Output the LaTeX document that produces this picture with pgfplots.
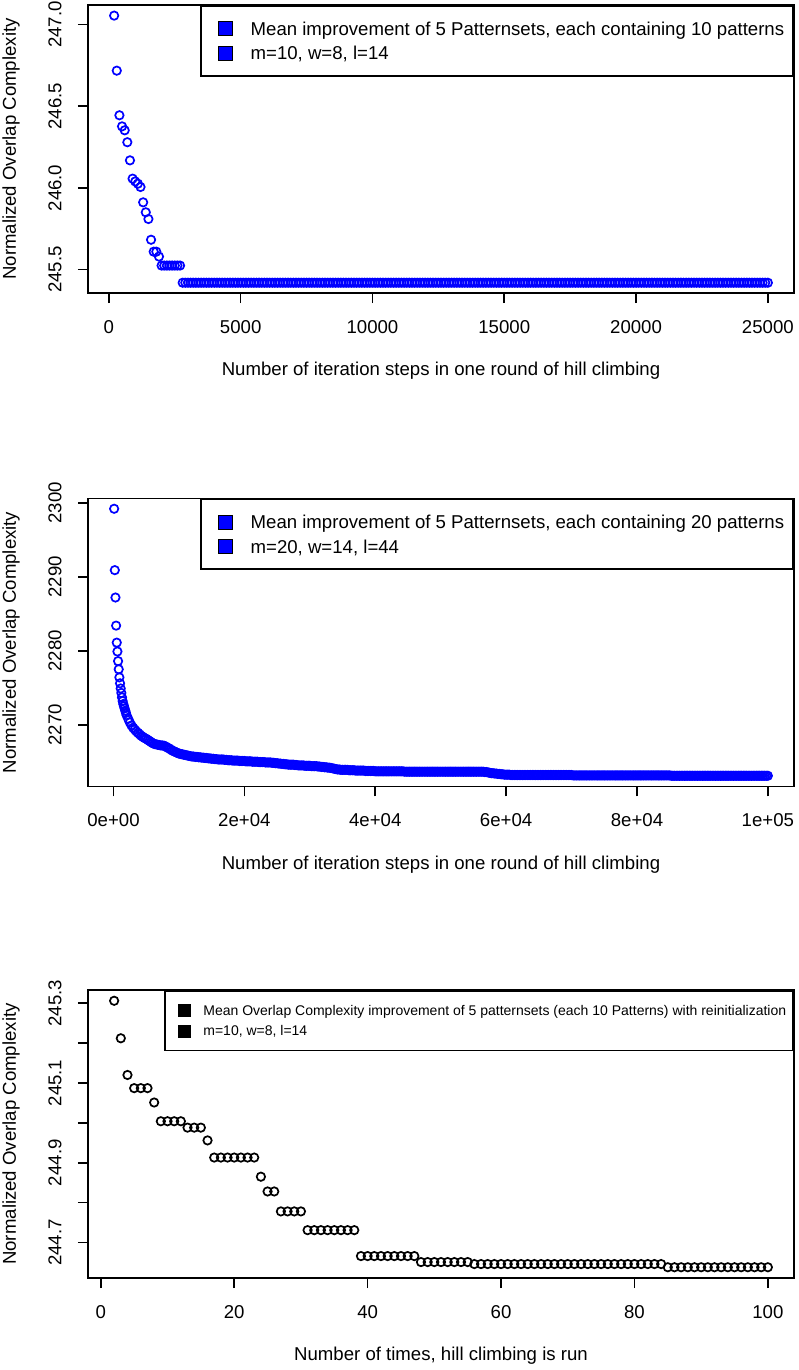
\documentclass[border=0pt]{standalone}
\usepackage{fontspec}
\setmainfont{Liberation Sans}
\usepackage{pgfplots}
\pgfplotsset{compat=1.18}

\pgfplotsset{
  rplot/.style={
    scale only axis, width=353pt, height=144pt,
    anchor=north west,
    axis line style={line width=0.8pt},
    tick style={line width=0.8pt, black},
    tick align=outside, major tick length=5pt,
    xtick pos=bottom, ytick pos=left,
    scaled ticks=false,
    tick label style={font=\fontsize{9.3}{11}\selectfont},
    label style={font=\fontsize{9.3}{11}\selectfont},
    /pgf/number format/assume math mode=true,
    xticklabel style={anchor=center},
    yticklabel style={rotate=90, anchor=center},
    xticklabel shift=12pt,
    yticklabel shift=11.5pt,
    xlabel style={at={(axis description cs:0.5,-0.2708)}, anchor=center},
    ylabel style={at={(axis description cs:-0.1091,0.5)}, anchor=center},
    ylabel={Normalized Overlap Complexity},
    legend cell align=left,
  },
  bigleg/.style={
    legend style={at={(1,1)}, anchor=north east, draw=black, line width=0.8pt,
      fill=white, inner xsep=4.5pt, inner ysep=7.7pt, row sep=4.84pt,
      font=\fontsize{9.3}{11}\selectfont,
      nodes={inner sep=0pt, text height=6.66pt, text depth=0pt}},
  },
  rmark/.style={only marks, mark=o, mark size=2.1pt, mark options={line width=0.85pt}},
  sqblue/.style={legend image code/.code={
    \path (0pt,0pt);
    \draw[fill=blue, draw=black, line width=0.4pt] (4pt,-3.5pt) rectangle (11pt,3.5pt);
    \path (19.5pt,0pt);}},
  sqblack/.style={legend image code/.code={
    \path (0pt,0pt);
    \draw[fill=black, draw=black, line width=0.4pt] (3pt,-3pt) rectangle (9pt,3pt);
    \path (15pt,0pt);}},
}

\begin{document}
\begin{tikzpicture}
\useasboundingbox (0pt,0pt) rectangle (399pt,-685pt);

% ---------- panel 1
\begin{axis}[rplot, bigleg,
  at={(44pt,-2.5pt)},
  xmin=-792, xmax=25992, ymin=245.357, ymax=247.12,
  xtick={0,5000,10000,15000,20000,25000},
  xticklabels={0,5000,10000,15000,20000,25000},
  ytick={245.5,246,246.5,247},
  yticklabels={245.5,246.0,246.5,247.0},
  xlabel={Number of iteration steps in one round of hill climbing},
]
\addplot[rmark, blue, sqblue] coordinates {
(200,247.055) (300,246.718) (400,246.445) (500,246.377) (600,246.353) (700,246.280)
(800,246.169) (900,246.057) (1000,246.040) (1100,246.026) (1200,246.006) (1300,245.912)
(1400,245.851) (1500,245.810) (1600,245.683) (1700,245.610) (1800,245.610) (1900,245.580)
(2000,245.525) (2100,245.525) (2200,245.525) (2300,245.525) (2400,245.525) (2500,245.525)
(2600,245.525) (2700,245.525)
(2800,245.42) (2900,245.42)
(3000,245.42) (3100,245.42) (3200,245.42) (3300,245.42) (3400,245.42) (3500,245.42) (3600,245.42) (3700,245.42) (3800,245.42) (3900,245.42)
(4000,245.42) (4100,245.42) (4200,245.42) (4300,245.42) (4400,245.42) (4500,245.42) (4600,245.42) (4700,245.42) (4800,245.42) (4900,245.42)
(5000,245.42) (5100,245.42) (5200,245.42) (5300,245.42) (5400,245.42) (5500,245.42) (5600,245.42) (5700,245.42) (5800,245.42) (5900,245.42)
(6000,245.42) (6100,245.42) (6200,245.42) (6300,245.42) (6400,245.42) (6500,245.42) (6600,245.42) (6700,245.42) (6800,245.42) (6900,245.42)
(7000,245.42) (7100,245.42) (7200,245.42) (7300,245.42) (7400,245.42) (7500,245.42) (7600,245.42) (7700,245.42) (7800,245.42) (7900,245.42)
(8000,245.42) (8100,245.42) (8200,245.42) (8300,245.42) (8400,245.42) (8500,245.42) (8600,245.42) (8700,245.42) (8800,245.42) (8900,245.42)
(9000,245.42) (9100,245.42) (9200,245.42) (9300,245.42) (9400,245.42) (9500,245.42) (9600,245.42) (9700,245.42) (9800,245.42) (9900,245.42)
(10000,245.42) (10100,245.42) (10200,245.42) (10300,245.42) (10400,245.42) (10500,245.42) (10600,245.42) (10700,245.42) (10800,245.42) (10900,245.42)
(11000,245.42) (11100,245.42) (11200,245.42) (11300,245.42) (11400,245.42) (11500,245.42) (11600,245.42) (11700,245.42) (11800,245.42) (11900,245.42)
(12000,245.42) (12100,245.42) (12200,245.42) (12300,245.42) (12400,245.42) (12500,245.42) (12600,245.42) (12700,245.42) (12800,245.42) (12900,245.42)
(13000,245.42) (13100,245.42) (13200,245.42) (13300,245.42) (13400,245.42) (13500,245.42) (13600,245.42) (13700,245.42) (13800,245.42) (13900,245.42)
(14000,245.42) (14100,245.42) (14200,245.42) (14300,245.42) (14400,245.42) (14500,245.42) (14600,245.42) (14700,245.42) (14800,245.42) (14900,245.42)
(15000,245.42) (15100,245.42) (15200,245.42) (15300,245.42) (15400,245.42) (15500,245.42) (15600,245.42) (15700,245.42) (15800,245.42) (15900,245.42)
(16000,245.42) (16100,245.42) (16200,245.42) (16300,245.42) (16400,245.42) (16500,245.42) (16600,245.42) (16700,245.42) (16800,245.42) (16900,245.42)
(17000,245.42) (17100,245.42) (17200,245.42) (17300,245.42) (17400,245.42) (17500,245.42) (17600,245.42) (17700,245.42) (17800,245.42) (17900,245.42)
(18000,245.42) (18100,245.42) (18200,245.42) (18300,245.42) (18400,245.42) (18500,245.42) (18600,245.42) (18700,245.42) (18800,245.42) (18900,245.42)
(19000,245.42) (19100,245.42) (19200,245.42) (19300,245.42) (19400,245.42) (19500,245.42) (19600,245.42) (19700,245.42) (19800,245.42) (19900,245.42)
(20000,245.42) (20100,245.42) (20200,245.42) (20300,245.42) (20400,245.42) (20500,245.42) (20600,245.42) (20700,245.42) (20800,245.42) (20900,245.42)
(21000,245.42) (21100,245.42) (21200,245.42) (21300,245.42) (21400,245.42) (21500,245.42) (21600,245.42) (21700,245.42) (21800,245.42) (21900,245.42)
(22000,245.42) (22100,245.42) (22200,245.42) (22300,245.42) (22400,245.42) (22500,245.42) (22600,245.42) (22700,245.42) (22800,245.42) (22900,245.42)
(23000,245.42) (23100,245.42) (23200,245.42) (23300,245.42) (23400,245.42) (23500,245.42) (23600,245.42) (23700,245.42) (23800,245.42) (23900,245.42)
(24000,245.42) (24100,245.42) (24200,245.42) (24300,245.42) (24400,245.42) (24500,245.42) (24600,245.42) (24700,245.42) (24800,245.42) (24900,245.42)
(25000,245.42)
};
\addlegendentry{Mean improvement of 5 Patternsets, each containing 10 patterns}
\addlegendimage{sqblue}
\addlegendentry{m=10, w=8, l=14}
\end{axis}

% ---------- panel 2
\begin{axis}[rplot, bigleg,
  at={(44pt,-249.2pt)},
  xmin=-3896, xmax=103996, ymin=2261.66, ymax=2300.6,
  xtick={0,20000,40000,60000,80000,100000},
  xticklabels={0e+00,2e+04,4e+04,6e+04,8e+04,1e+05},
  ytick={2270,2280,2290,2300},
  yticklabels={2270,2280,2290,2300},
  xlabel={Number of iteration steps in one round of hill climbing},
]
\addplot[rmark, blue, sqblue] coordinates {
(100,2299.2) (200,2290.9) (300,2287.2) (400,2283.4) (500,2281.1) (600,2279.9) (700,2278.6)
(800,2277.5) (900,2276.4) (1000,2275.6) (1100,2274.9) (1200,2274.3) (1300,2273.7) (1400,2273.2)
(1500,2272.8) (1600,2272.5) (1700,2272.2) (1800,2271.9) (1900,2271.6)
(2000,2271.3) (2250,2270.8) (2500,2270.3) (2750,2269.9) (3000,2269.6) (3250,2269.35)
(3500,2269.1) (3750,2268.9) (4000,2268.7) (4250,2268.5) (4500,2268.35) (4750,2268.2)
(5000,2268.1) (5250,2267.95) (5500,2267.8) (5750,2267.65) (6000,2267.5) (6250,2267.4)
(6500,2267.35) (6750,2267.3) (7000,2267.25) (7250,2267.2) (7500,2267.2) (7750,2267.15)
(8000,2267.05) (8250,2266.9) (8500,2266.8) (8750,2266.65) (9000,2266.5) (9250,2266.4)
(9500,2266.3) (9750,2266.2) (10000,2266.1) (10250,2266.05) (10500,2266.0) (10750,2265.95)
(11000,2265.9) (11250,2265.85) (11500,2265.8) (11750,2265.75) (12000,2265.7) (12250,2265.7)
(12500,2265.65) (12750,2265.65) (13000,2265.6) (13250,2265.6) (13500,2265.55) (13750,2265.55)
(14000,2265.5) (14250,2265.5) (14500,2265.45) (14750,2265.45) (15000,2265.4) (15250,2265.4)
(15500,2265.35) (15750,2265.35) (16000,2265.3) (16250,2265.3) (16500,2265.3) (16750,2265.3)
(17000,2265.25) (17250,2265.25) (17500,2265.2) (17750,2265.2) (18000,2265.2) (18250,2265.15)
(18500,2265.15) (18750,2265.15) (19000,2265.15) (19250,2265.1) (19500,2265.1) (19750,2265.1)
(20000,2265.1) (20250,2265.05) (20500,2265.05) (20750,2265.05) (21000,2265.05) (21250,2265.0)
(21500,2265.0) (21750,2265.0) (22000,2265.0) (22250,2264.95) (22500,2264.95) (22750,2264.95)
(23000,2264.95) (23250,2264.9) (23500,2264.9) (23750,2264.9) (24000,2264.9) (24250,2264.85)
(24500,2264.85) (24750,2264.8) (25000,2264.8) (25250,2264.75) (25500,2264.75) (25750,2264.7)
(26000,2264.7) (26250,2264.65) (26500,2264.65) (26750,2264.6) (27000,2264.6) (27250,2264.6)
(27500,2264.6) (27750,2264.55) (28000,2264.55) (28250,2264.5) (28500,2264.5) (28750,2264.5)
(29000,2264.5) (29250,2264.45) (29500,2264.45) (29750,2264.45) (30000,2264.45) (30250,2264.4)
(30500,2264.4) (30750,2264.4) (31000,2264.4) (31250,2264.35) (31500,2264.35) (31750,2264.3)
(32000,2264.3) (32250,2264.25) (32500,2264.25) (32750,2264.2) (33000,2264.2) (33250,2264.15)
(33500,2264.1) (33750,2264.05) (34000,2264.0) (34250,2263.95) (34500,2263.95) (34750,2263.9)
(35000,2263.9) (35250,2263.9) (35500,2263.9) (35750,2263.9) (36000,2263.85) (36250,2263.85)
(36500,2263.85) (36750,2263.85) (37000,2263.8) (37250,2263.8) (37500,2263.8) (37750,2263.8)
(38000,2263.8) (38250,2263.8) (38500,2263.75) (38750,2263.75) (39000,2263.75) (39250,2263.75)
(39500,2263.75) (39750,2263.75) (40000,2263.7) (40250,2263.7) (40500,2263.7) (40750,2263.7)
(41000,2263.7) (41250,2263.7) (41500,2263.7) (41750,2263.7) (42000,2263.7) (42250,2263.7)
(42500,2263.7) (42750,2263.7) (43000,2263.7) (43250,2263.7) (43500,2263.7) (43750,2263.7)
(44000,2263.7) (44250,2263.7) (44500,2263.65) (44750,2263.65) (45000,2263.65) (45250,2263.65)
(45500,2263.65) (45750,2263.65) (46000,2263.65) (46250,2263.65) (46500,2263.65) (46750,2263.65)
(47000,2263.65) (47250,2263.65) (47500,2263.65) (47750,2263.65) (48000,2263.65) (48250,2263.65)
(48500,2263.65) (48750,2263.65) (49000,2263.65) (49250,2263.65) (49500,2263.65) (49750,2263.65)
(50000,2263.65) (50250,2263.65) (50500,2263.65) (50750,2263.65) (51000,2263.65) (51250,2263.65)
(51500,2263.65) (51750,2263.65) (52000,2263.65) (52250,2263.65) (52500,2263.65) (52750,2263.65)
(53000,2263.65) (53250,2263.65) (53500,2263.65) (53750,2263.65) (54000,2263.65) (54250,2263.65)
(54500,2263.65) (54750,2263.65) (55000,2263.65) (55250,2263.65) (55500,2263.65) (55750,2263.65)
(56000,2263.65) (56250,2263.65) (56500,2263.65) (56750,2263.6) (57000,2263.6) (57250,2263.55)
(57500,2263.5) (57750,2263.45) (58000,2263.45) (58250,2263.4) (58500,2263.4) (58750,2263.35)
(59000,2263.35) (59250,2263.3) (59500,2263.3) (59750,2263.25) (60000,2263.25) (60250,2263.25)
(60500,2263.25) (60750,2263.2) (61000,2263.2) (61250,2263.2) (61500,2263.2) (61750,2263.2)
(62000,2263.2) (62250,2263.2) (62500,2263.2) (62750,2263.2) (63000,2263.2) (63250,2263.2)
(63500,2263.2) (63750,2263.2) (64000,2263.2) (64250,2263.2) (64500,2263.2) (64750,2263.2)
(65000,2263.2) (65250,2263.2) (65500,2263.2) (65750,2263.2) (66000,2263.2) (66250,2263.2)
(66500,2263.2) (66750,2263.2) (67000,2263.2) (67250,2263.2) (67500,2263.2) (67750,2263.2)
(68000,2263.2) (68250,2263.2) (68500,2263.2) (68750,2263.2) (69000,2263.2) (69250,2263.2)
(69500,2263.2) (69750,2263.2) (70000,2263.2) (70250,2263.15) (70500,2263.15) (70750,2263.15)
(71000,2263.15) (71250,2263.15) (71500,2263.15) (71750,2263.15) (72000,2263.15) (72250,2263.15)
(72500,2263.15) (72750,2263.15) (73000,2263.15) (73250,2263.15) (73500,2263.15) (73750,2263.15)
(74000,2263.15) (74250,2263.15) (74500,2263.15) (74750,2263.15) (75000,2263.15) (75250,2263.15)
(75500,2263.15) (75750,2263.15) (76000,2263.15) (76250,2263.15) (76500,2263.15) (76750,2263.15)
(77000,2263.15) (77250,2263.15) (77500,2263.15) (77750,2263.15) (78000,2263.15) (78250,2263.15)
(78500,2263.15) (78750,2263.15) (79000,2263.15) (79250,2263.15) (79500,2263.15) (79750,2263.15)
(80000,2263.15) (80250,2263.15) (80500,2263.15) (80750,2263.15) (81000,2263.15) (81250,2263.15)
(81500,2263.15) (81750,2263.15) (82000,2263.15) (82250,2263.15) (82500,2263.15) (82750,2263.15)
(83000,2263.15) (83250,2263.15) (83500,2263.15) (83750,2263.15) (84000,2263.15) (84250,2263.15)
(84500,2263.15) (84750,2263.15) (85000,2263.15) (85250,2263.1) (85500,2263.1) (85750,2263.1)
(86000,2263.1) (86250,2263.1) (86500,2263.1) (86750,2263.1) (87000,2263.1) (87250,2263.1)
(87500,2263.1) (87750,2263.1) (88000,2263.1) (88250,2263.1) (88500,2263.1) (88750,2263.1)
(89000,2263.1) (89250,2263.1) (89500,2263.1) (89750,2263.1) (90000,2263.1) (90250,2263.1)
(90500,2263.1) (90750,2263.1) (91000,2263.1) (91250,2263.1) (91500,2263.1) (91750,2263.1)
(92000,2263.1) (92250,2263.1) (92500,2263.1) (92750,2263.1) (93000,2263.1) (93250,2263.1)
(93500,2263.1) (93750,2263.1) (94000,2263.1) (94250,2263.1) (94500,2263.1) (94750,2263.1)
(95000,2263.1) (95250,2263.1) (95500,2263.1) (95750,2263.1) (96000,2263.1) (96250,2263.1)
(96500,2263.1) (96750,2263.1) (97000,2263.1) (97250,2263.1) (97500,2263.1) (97750,2263.1)
(98000,2263.1) (98250,2263.1) (98500,2263.1) (98750,2263.1) (99000,2263.1) (99250,2263.1)
(99500,2263.1) (99750,2263.1) (100000,2263.1)
};
\addlegendentry{Mean improvement of 5 Patternsets, each containing 20 patterns}
\addlegendimage{sqblue}
\addlegendentry{m=20, w=14, l=44}
\end{axis}

% ---------- panel 3
\begin{axis}[rplot,
  at={(44pt,-495pt)},
  xmin=-1.92, xmax=103.92, ymin=244.611, ymax=245.333,
  xtick={0,20,40,60,80,100},
  xticklabels={0,20,40,60,80,100},
  ytick={244.7,244.8,244.9,245.0,245.1,245.2,245.3},
  yticklabels={244.7,,244.9,,245.1,,245.3},
  xlabel={Number of times, hill climbing is run},
  legend style={at={(1,1)}, anchor=north east, draw=black, line width=0.8pt,
    fill=white, inner xsep=3.5pt, inner ysep=6.6pt, row sep=3.85pt,
    font=\fontsize{7}{8.5}\selectfont,
    nodes={inner sep=0pt, text height=5pt, text depth=0pt}},
]
\addplot[rmark, black, sqblack] coordinates {
(2,245.306) (3,245.212) (4,245.120) (5,245.087) (6,245.087) (7,245.087) (8,245.051)
(9,245.004) (10,245.004) (11,245.004) (12,245.004) (13,244.988) (14,244.988) (15,244.988)
(16,244.956) (17,244.913) (18,244.913) (19,244.913) (20,244.913) (21,244.913) (22,244.913)
(23,244.913) (24,244.865) (25,244.828) (26,244.828) (27,244.778) (28,244.778) (29,244.778)
(30,244.778) (31,244.731) (32,244.731) (33,244.731) (34,244.731) (35,244.731) (36,244.731)
(37,244.731) (38,244.731) (39,244.666) (40,244.666) (41,244.666) (42,244.666) (43,244.666)
(44,244.666) (45,244.666) (46,244.666) (47,244.666) (48,244.651) (49,244.651) (50,244.651)
(51,244.651) (52,244.651) (53,244.651) (54,244.651) (55,244.651) (56,244.646) (57,244.646)
(58,244.646) (59,244.646) (60,244.646) (61,244.646) (62,244.646) (63,244.646) (64,244.646)
(65,244.646) (66,244.646) (67,244.646) (68,244.646) (69,244.646) (70,244.646) (71,244.646)
(72,244.646) (73,244.646) (74,244.646) (75,244.646) (76,244.646) (77,244.646) (78,244.646)
(79,244.646) (80,244.646) (81,244.646) (82,244.646) (83,244.646) (84,244.646) (85,244.638)
(86,244.638) (87,244.638) (88,244.638) (89,244.638) (90,244.638) (91,244.638) (92,244.638)
(93,244.638) (94,244.638) (95,244.638) (96,244.638) (97,244.638) (98,244.638) (99,244.638)
(100,244.638)
};
\addlegendentry{Mean Overlap Complexity improvement of 5 patternsets (each 10 Patterns) with reinitialization}
\addlegendimage{sqblack}
\addlegendentry{m=10, w=8, l=14}
\end{axis}
\end{tikzpicture}
\end{document}
